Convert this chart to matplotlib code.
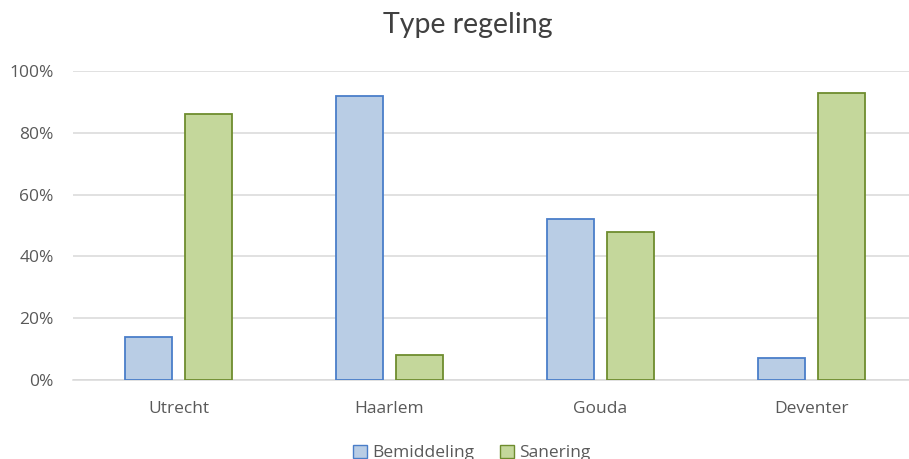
import matplotlib
matplotlib.use("Agg")
import matplotlib.pyplot as plt
from matplotlib.patches import Patch
from matplotlib.ticker import FuncFormatter
import numpy as np

plt.rcParams['font.family'] = ['Open Sans', 'DejaVu Sans']

categories = ["Utrecht", "Haarlem", "Gouda", "Deventer"]
bemiddeling = [14, 92, 52, 7]
sanering = [86, 8, 48, 93]
yticks = [0, 20, 40, 60, 80, 100]

W, H = 909, 459
fig = plt.figure(figsize=(W / 100, H / 100), dpi=100)
ax = fig.add_axes([73 / W, 1 - 380 / H, (W - 73) / W, (380 - 71) / H])

x = np.arange(len(categories))
bw = 0.227
gap = 0.057
off = (bw + gap) / 2

ax.bar(x - off, bemiddeling, width=bw, color="#B9CDE5", edgecolor="#4A7EC9",
       linewidth=1.3, zorder=3, label="Bemiddeling")
ax.bar(x + off, sanering, width=bw, color="#C4D79B", edgecolor="#6E8C2E",
       linewidth=1.3, zorder=3, label="Sanering")

ax.set_xlim(-0.5, -0.5 + (W - 73) / 211)
ax.set_ylim(0, 100)
ax.set_yticks(yticks)
ax.yaxis.set_major_formatter(FuncFormatter(lambda v, p: f"{int(v)}%"))
ax.set_xticks(x)
ax.set_xticklabels(categories)
ax.grid(axis="y", color="#D9D9D9", linewidth=1.1, zorder=0)
for s in ["top", "right", "left"]:
    ax.spines[s].set_visible(False)
ax.spines["bottom"].set_color("#D9D9D9")
ax.spines["bottom"].set_linewidth(1.1)
ax.tick_params(axis="both", length=0, labelsize=12.5, colors="#595959")
ax.tick_params(axis="y", pad=14)
ax.tick_params(axis="x", pad=15)

fig.text(468 / W, 1 - 25 / H, "Type regeling", ha="center", va="center",
         fontsize=20.5, color="#404040", family=["Lato", "DejaVu Sans"])

handles = [Patch(facecolor="#B9CDE5", edgecolor="#4A7EC9", label="Bemiddeling"),
           Patch(facecolor="#C4D79B", edgecolor="#6E8C2E", label="Sanering")]
fig.legend(handles=handles, loc="center", bbox_to_anchor=(472 / W, 1 - 453 / H),
           ncol=2, frameon=False, fontsize=12.5, handlelength=0.8,
           handleheight=0.8, handletextpad=0.3, columnspacing=1.5,
           labelcolor="#595959")

fig.savefig("out.png", dpi=100)
